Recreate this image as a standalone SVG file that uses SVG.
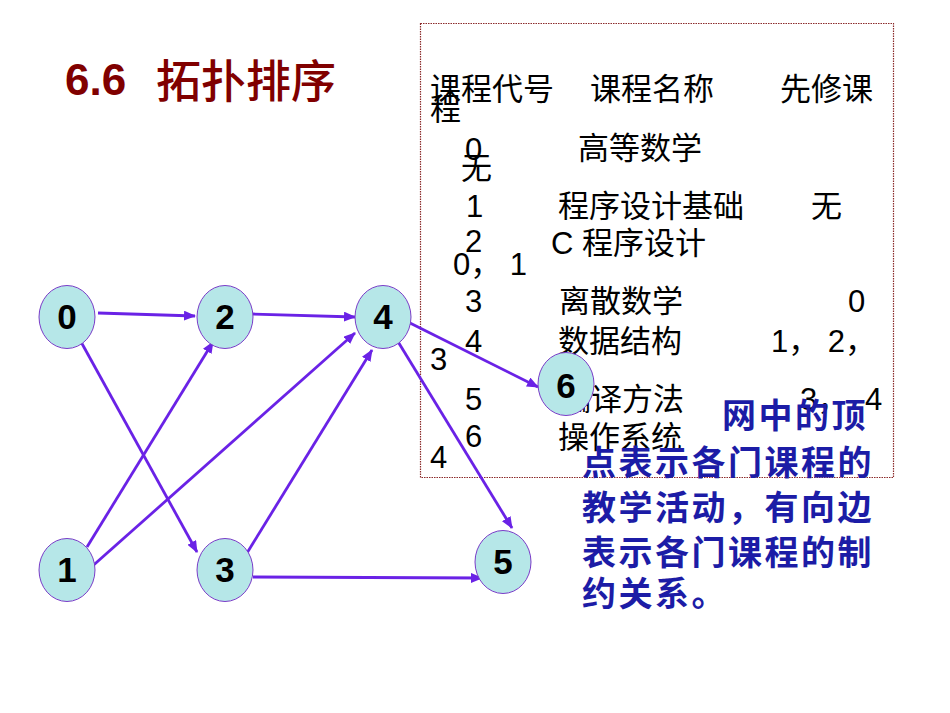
<svg xmlns="http://www.w3.org/2000/svg" width="950" height="713" viewBox="0 0 950 713">
<style>
.t{font-family:"Liberation Sans","Noto Sans CJK SC",sans-serif;font-size:31px;fill:#000}
.n{fill:#b6e7e8;stroke:#7a3cc8;stroke-width:1}
.nl{font-family:"Liberation Sans",Arial,sans-serif;font-size:35px;font-weight:bold;fill:#000;text-anchor:middle}
.e{stroke:#6a22e6;stroke-width:2.8;fill:none;marker-end:url(#ah)}
.b{font-family:"Liberation Sans","Noto Sans CJK SC",sans-serif;font-size:34px;font-weight:bold;fill:#1c1ca6;letter-spacing:2.5px}
</style>
<defs>
<marker id="ah" markerWidth="12" markerHeight="10" refX="11" refY="5" orient="auto" markerUnits="userSpaceOnUse">
<path d="M0,0 L12,5 L0,10 Z" fill="#6a22e6"/>
</marker>
</defs>
<rect width="950" height="713" fill="#fff"/>
<g id="title">
<text x="65" y="95" style="font-family:'Liberation Sans',Arial,sans-serif;font-size:44px;font-weight:bold;fill:#800000">6.6</text>
<text x="156" y="98" style="font-family:'Noto Sans CJK SC',sans-serif;font-size:45px;font-weight:500;fill:#800000">拓扑排序</text>
</g>
<g id="table">
<rect x="420.5" y="23.5" width="473" height="454" fill="none" stroke="#8b2a2a" stroke-width="1.2" stroke-dasharray="1.5,1"/>
<text class="t" x="430" y="100">课程代号</text>
<text class="t" x="590" y="100">课程名称</text>
<text class="t" x="780" y="100">先修课</text>
<text class="t" x="430" y="120">程</text>
<text class="t" x="465" y="160">0</text>
<text class="t" x="578" y="159">高等数学</text>
<text class="t" x="461" y="179">无</text>
<text class="t" x="466" y="217">1</text>
<text class="t" x="558" y="217">程序设计基础</text>
<text class="t" x="811" y="217">无</text>
<text class="t" x="465" y="252">2</text>
<text class="t" x="551" y="254">C 程序设计</text>
<text class="t" x="453" y="275">0，  1</text>
<text class="t" x="465" y="312">3</text>
<text class="t" x="559" y="312">离散数学</text>
<text class="t" x="848" y="312">0</text>
<text class="t" x="465" y="352">4</text>
<text class="t" x="558" y="352">数据结构</text>
<text class="t" x="771" y="352">1，  2，</text>
<text class="t" x="430" y="370">3</text>
<text class="t" x="465" y="410">5</text>
<text class="t" x="560" y="410">编译方法</text>
<text class="t" x="800" y="410">3，</text>
<text class="t" x="865" y="410">4</text>
<text class="t" x="465" y="447">6</text>
<text class="t" x="558" y="448">操作系统</text>
<text class="t" x="430" y="468">4</text>
</g>
<g id="edges">
<line class="e" x1="98" y1="313" x2="195" y2="316"/>
<line class="e" x1="253" y1="314" x2="355" y2="317"/>
<line class="e" x1="80" y1="340" x2="197" y2="552"/>
<line class="e" x1="87" y1="547" x2="213" y2="342"/>
<line class="e" x1="88" y1="570" x2="355" y2="333"/>
<line class="e" x1="247" y1="553" x2="372" y2="350"/>
<line class="e" x1="253" y1="577" x2="482" y2="578"/>
<line class="e" x1="408" y1="322" x2="538" y2="387"/>
<line class="e" x1="397" y1="340" x2="512" y2="528"/>
</g>
<g id="node0"><ellipse class="n" cx="67" cy="317" rx="28" ry="31.5"/><text class="nl" x="67" y="329">0</text></g>
<g id="node2"><ellipse class="n" cx="225" cy="317" rx="28" ry="31.5"/><text class="nl" x="225" y="329">2</text></g>
<g id="node4"><ellipse class="n" cx="383" cy="317" rx="28" ry="31.5"/><text class="nl" x="383" y="329">4</text></g>
<g id="node1"><ellipse class="n" cx="67" cy="570" rx="28" ry="31.5"/><text class="nl" x="67" y="582">1</text></g>
<g id="node3"><ellipse class="n" cx="225" cy="570" rx="28" ry="31.5"/><text class="nl" x="225" y="582">3</text></g>
<g id="node5"><ellipse class="n" cx="503" cy="562" rx="28" ry="31.5"/><text class="nl" x="503" y="574">5</text></g>
<g id="node6"><ellipse class="n" cx="566" cy="384" rx="28" ry="31.5"/><text class="nl" x="566" y="398">6</text></g>
<g id="note">
<text class="b" x="722" y="428">网中的顶</text>
<text class="b" x="582" y="475">点表示各门课程的</text>
<text class="b" x="582" y="520">教学活动，有向边</text>
<text class="b" x="582" y="565">表示各门课程的制</text>
<text class="b" x="582" y="606">约关系。</text>
</g>
</svg>
